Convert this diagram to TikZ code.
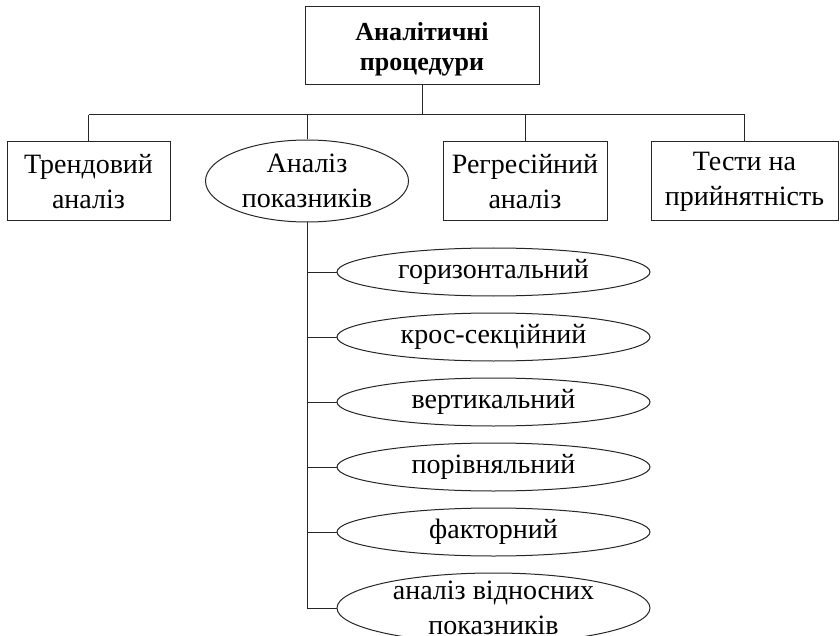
\documentclass[tikz,border=0pt]{standalone}
\usepackage{fontspec}
\setmainfont{Liberation Serif}
\usetikzlibrary{shapes.geometric, positioning}

\begin{document}
\begin{tikzpicture}[
    x=1pt, y=-1pt,
    node distance=16pt,
    font=\fontsize{28}{35}\selectfont,
    box/.style={rectangle, draw=black!85, line width=1pt, minimum height=79pt, align=center, inner sep=2pt},
    oval/.style={ellipse, draw=black!85, line width=1pt, minimum width=313pt, minimum height=48pt, inner xsep=0pt, inner ysep=-8pt, align=center},
    line/.style={draw=black!85, line width=1pt}
]
\useasboundingbox (0,0) rectangle (840,636);

% Nodes
\node[box, minimum width=234pt, minimum height=78pt, font=\fontsize{26}{30}\selectfont\bfseries] (proc) at (422,46) {\rule{0pt}{24pt}Аналітичні\\процедури};
\node[box, minimum width=163pt] (trend) at (88.5,181.5) {Трендовий\\аналіз};
\node[oval, minimum width=203pt, minimum height=82pt] (ratio) at (307,181) {Аналіз\\показників};
\node[box, minimum width=164pt] (regr) at (525,181.5) {Регресійний\\аналіз};
\node[box, minimum width=187pt] (accept) at (744.5,181.5) {Тести на\\прийнятність};

% Kinds of ratio analysis
\node[oval] (hor) at (493.5,272) {горизонтальний};
\node[oval, below=of hor] (cross) {крос-секційний};
\node[oval, below=of cross] (vert) {вертикальний};
\node[oval, below=of vert] (comp) {порівняльний};
\node[oval, below=of comp] (fact) {факторний};
\node[oval, below=of fact, minimum height=70pt] (rel) {аналіз відносних\\показників};

% Lines
\coordinate (bar) at (422,115);
\draw[line] (proc.south) -- (proc.south |- bar);
\draw[line] (trend.north |- bar) -- (accept.north |- bar);
\draw[line] (trend.north |- bar) -- (trend.north);
\draw[line] (ratio.north |- bar) -- (ratio.north);
\draw[line] (regr.north |- bar) -- (regr.north);
\draw[line] (accept.north |- bar) -- (accept.north);

\draw[line] (ratio.south) |- (rel.west);
\draw[line] (ratio.south |- hor.west) -- (hor.west);
\draw[line] (ratio.south |- cross.west) -- (cross.west);
\draw[line] (ratio.south |- vert.west) -- (vert.west);
\draw[line] (ratio.south |- comp.west) -- (comp.west);
\draw[line] (ratio.south |- fact.west) -- (fact.west);
\end{tikzpicture}
\end{document}
